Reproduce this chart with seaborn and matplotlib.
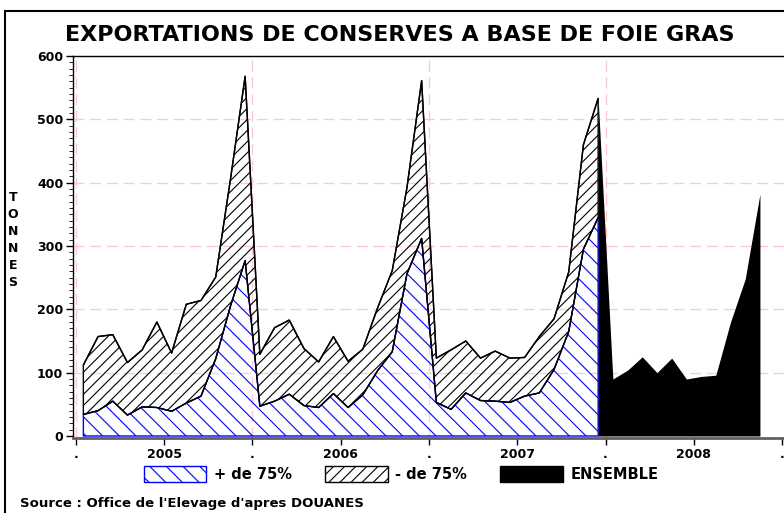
import numpy as np
import pandas as pd
import matplotlib
matplotlib.use('Agg')
import matplotlib.pyplot as plt
import seaborn as sns
from matplotlib.patches import Patch, Rectangle
from matplotlib.ticker import MultipleLocator

# ==============================================================================
# DONNEES (tonnes)
# ==============================================================================
annees_axe = [2005, 2006, 2007, 2008]

# janv 2005 -> dec 2007
plus_75 = [34, 40, 55, 33, 46, 45, 39, 52, 63, 122, 205, 277,
           47, 55, 66, 48, 45, 67, 45, 65, 103, 133, 256, 312,
           53, 42, 68, 56, 55, 53, 63, 68, 105, 165, 295, 345]
moins_75 = [78, 117, 105, 83, 90, 135, 92, 156, 151, 129, 200, 291,
            82, 116, 117, 90, 72, 90, 73, 72, 99, 128, 136, 249,
            70, 94, 82, 67, 79, 70, 61, 89, 80, 94, 165, 188]
# dec 2007 -> nov 2008
ensemble = [533, 90, 104, 125, 100, 123, 90, 94, 96, 180, 248, 382]

titre = "EXPORTATIONS DE CONSERVES A BASE DE FOIE GRAS"
source = "Source : Office de l'Elevage d'apres DOUANES"

# ==============================================================================
# PREPARATION
# ==============================================================================
dates = pd.date_range('2005-01-01', periods=len(plus_75), freq='MS')
df = pd.DataFrame({'date': dates, 'plus': plus_75, 'moins': moins_75})
df['x'] = df['date'].dt.year + (df['date'].dt.month - 0.5) / 12
df['total'] = df['plus'] + df['moins']

dates_ens = pd.date_range('2007-12-01', periods=len(ensemble), freq='MS')
df_ens = pd.DataFrame({'date': dates_ens, 'ensemble': ensemble})
df_ens['x'] = df_ens['date'].dt.year + (df_ens['date'].dt.month - 0.5) / 12

sns.set_theme(style='white')
plt.rcParams['font.family'] = ['DejaVu Sans']
plt.rcParams['text.color'] = 'black'
plt.rcParams['hatch.linewidth'] = 0.8

W, H = 784, 513
fig = plt.figure(figsize=(W / 100, H / 100), dpi=100)
ax = fig.add_axes([73 / W, 75 / H, (786 - 73) / W, (438 - 56) / H])

# grille rose en tirets
for y in range(100, 700, 100):
    ax.axhline(y, color='#ffc8d2', ls=(0, (8, 4)), lw=1, zorder=0)
for a in annees_axe:
    ax.axvline(a, color='#ffc8d2', ls=(0, (8, 4)), lw=1, zorder=0)

# aires empilees
ax.fill_between(df['x'], 0, df['plus'], facecolor='none', edgecolor='blue',
                hatch='\\\\', lw=1, zorder=2)
ax.fill_between(df['x'], df['plus'], df['total'], facecolor='none', edgecolor='black',
                hatch='///', lw=1, zorder=2)
ax.fill_between(df_ens['x'], 0, df_ens['ensemble'], color='black', lw=0, zorder=3)

sns.lineplot(data=df, x='x', y='total', color='black', lw=1, ax=ax, zorder=4)
sns.lineplot(data=df, x='x', y='plus', color='black', lw=0.8, ax=ax, zorder=4)

ax.set_xlim(2005 - 3 / 176.5, 2005 + (786 - 76) / 176.5)
ax.set_ylim(-3.16, 600)
ax.set_xlabel('')
ax.set_ylabel('')

ax.set_yticks(range(0, 700, 100))
ax.yaxis.set_minor_locator(MultipleLocator(10))
ax.set_xticks([2005, 2006, 2007, 2008, 2009], ['.'] * 5)
ax.set_xticks([a + 0.5 for a in annees_axe], [str(a) for a in annees_axe], minor=True)

ax.tick_params(axis='y', which='major', direction='out', length=5, width=1, pad=2,
               left=True, labelsize=9, colors='black')
ax.tick_params(axis='y', which='minor', direction='out', length=3, width=0.7, left=True)
ax.tick_params(axis='x', which='both', direction='out', length=5, width=1, pad=2,
               bottom=True, labelsize=9, colors='black')
for lab in ax.get_yticklabels() + ax.get_xticklabels() + ax.get_xticklabels(minor=True):
    lab.set_fontweight('bold')

for s in ['top', 'left']:
    ax.spines[s].set_color('black')
    ax.spines[s].set_linewidth(1)
ax.spines['bottom'].set_color('#606060')
ax.spines['bottom'].set_linewidth(2)
ax.spines['right'].set_visible(False)

# textes
fig.text(400 / W, 1 - 35 / H, titre, ha='center', va='center', fontsize=16,
         fontweight='bold', color='black')
fig.text(13 / W, 1 - 240 / H, 'T\nO\nN\nN\nE\nS', ha='center', va='center', fontsize=9,
         fontweight='bold', linespacing=1.4, color='black')
fig.text(20 / W, 1 - 503 / H, source, ha='left', va='center', fontsize=9.5,
         fontweight='bold', color='black')

# legende
handles = [
    Patch(facecolor='white', edgecolor='blue', hatch='\\\\', label='+ de 75%'),
    Patch(facecolor='white', edgecolor='black', hatch='///', label='- de 75%'),
    Patch(facecolor='black', edgecolor='black', label='ENSEMBLE'),
]
fig.legend(handles=handles, loc='center', bbox_to_anchor=(401 / W, 1 - 474 / H), ncol=3,
           frameon=False, handlelength=4.3, handleheight=1.35, handletextpad=0.5,
           columnspacing=2.3, prop={'weight': 'bold', 'size': 10.5})

# cadre exterieur
fig.add_artist(Rectangle((5 / W, -0.05), 1.0, 1 - 11 / H + 0.05, transform=fig.transFigure,
                         fill=False, ec='black', lw=1.5))

fig.savefig('out.png', dpi=100)
